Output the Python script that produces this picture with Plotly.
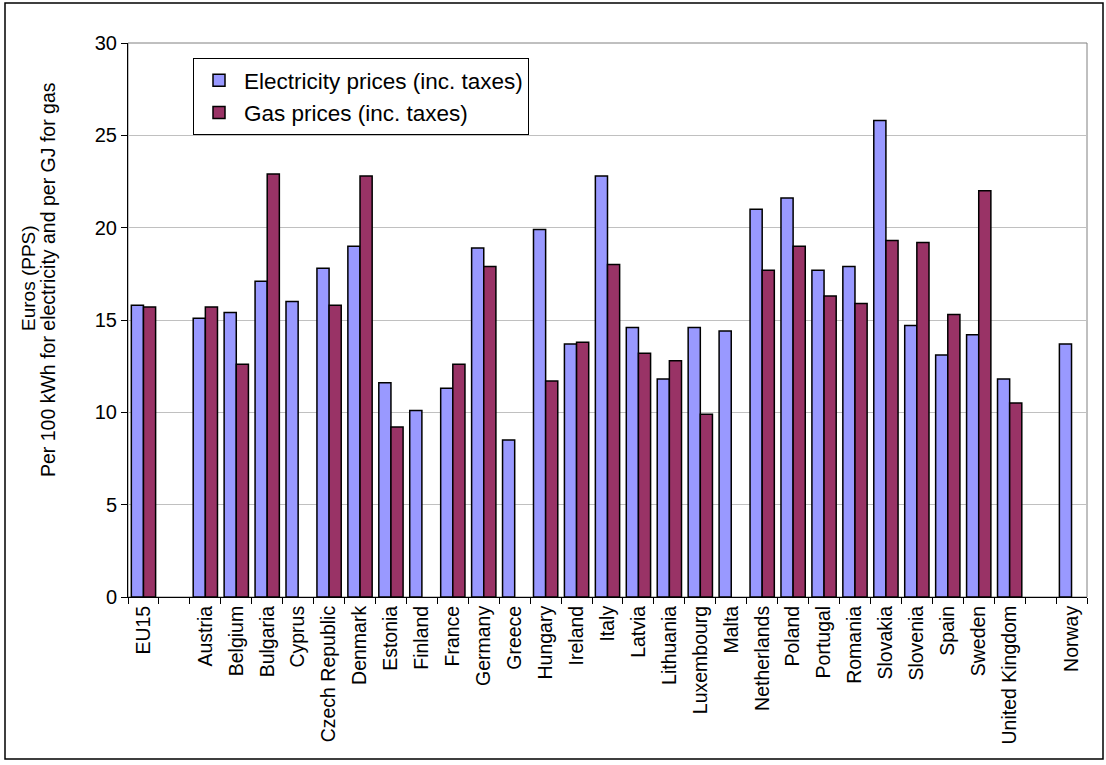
import plotly.graph_objects as go

# Country labels (blank slots separate EU15 and Norway from the member states)
categories = ["EU15", " ", "Austria", "Belgium", "Bulgaria", "Cyprus", "Czech Republic",
              "Denmark", "Estonia", "Finland", "France", "Germany", "Greece", "Hungary",
              "Ireland", "Italy", "Latvia", "Lithuania", "Luxembourg", "Malta",
              "Netherlands", "Poland", "Portugal", "Romania", "Slovakia", "Slovenia",
              "Spain", "Sweden", "United Kingdom", "  ", "Norway"]

# Euros (PPS) per 100 kWh
electricity = [15.8, None, 15.1, 15.4, 17.1, 16.0, 17.8, 19.0, 11.6, 10.1, 11.3, 18.9, 8.5,
               19.9, 13.7, 22.8, 14.6, 11.8, 14.6, 14.4, 21.0, 21.6, 17.7, 17.9, 25.8,
               14.7, 13.1, 14.2, 11.8, None, 13.7]

# Euros (PPS) per GJ
gas = [15.7, None, 15.7, 12.6, 22.9, None, 15.8, 22.8, 9.2, None, 12.6, 17.9, None,
       11.7, 13.8, 18.0, 13.2, 12.8, 9.9, None, 17.7, 19.0, 16.3, 15.9, 19.3,
       19.2, 15.3, 22.0, 10.5, None, None]

series_names = ["Electricity prices (inc. taxes)", "Gas prices (inc. taxes)"]
y_ticks = [0, 5, 10, 15, 20, 25, 30]

W, H = 1106, 765
L, R, T, B = 128, 19, 43, 168
PW, PH = W - L - R, H - T - B


def px_x(x):
    return (x - L) / PW


def px_y(y):
    return (H - B - y) / PH


FONT = "Liberation Sans, Arial, sans-serif"

fig = go.Figure()
fig.add_trace(go.Bar(
    x=categories, y=electricity, name=series_names[0], legendgroup="e",
    marker=dict(color="#9999FF", line=dict(color="#000000", width=1.5)),
))
fig.add_trace(go.Bar(
    x=categories, y=gas, name=series_names[1], legendgroup="g",
    marker=dict(color="#993366", line=dict(color="#000000", width=1.5)),
))

fig.update_layout(
    width=W, height=H,
    margin=dict(l=L, r=R, t=T, b=B, pad=0),
    paper_bgcolor="white", plot_bgcolor="white",
    barmode="group", bargap=0.215, bargroupgap=0,
    font=dict(family=FONT, color="black"),
    showlegend=True,
    legend=dict(
        x=px_x(193), y=px_y(58), xanchor="left", yanchor="top",
        bgcolor="white", bordercolor="black", borderwidth=1,
        font=dict(size=22.5, family=FONT, color="black"),
        itemwidth=40, tracegroupgap=0, traceorder="normal",
    ),
    xaxis=dict(
        type="category", range=[-0.5, len(categories) - 0.5],
        tickson="boundaries", ticks="outside", ticklen=6, tickcolor="black",
        tickangle=-90, tickfont=dict(size=19.5, family=FONT, color="black"),
        showline=True, linecolor="black", linewidth=1, showgrid=False,
        fixedrange=True,
    ),
    yaxis=dict(
        range=[0, 30], tickvals=y_ticks, ticks="outside", ticklen=6, tickcolor="black",
        tickfont=dict(size=20, family=FONT, color="black"),
        showline=True, linecolor="black", linewidth=1,
        showgrid=True, gridcolor="#c0c0c0", gridwidth=1, zeroline=False,
        fixedrange=True,
    ),
    shapes=[
        # plot-area frame
        dict(type="rect", xref="paper", yref="paper", x0=0, x1=1, y0=0, y1=1,
             line=dict(color="#808080", width=1), fillcolor="rgba(0,0,0,0)", layer="below"),
        # chart border
        dict(type="rect", xref="paper", yref="paper",
             x0=px_x(5), x1=px_x(1103), y0=px_y(759), y1=px_y(3),
             line=dict(color="black", width=1.5), fillcolor="rgba(0,0,0,0)"),
    ],
    annotations=[
        dict(text="Euros (PPS)", xref="paper", yref="paper", x=px_x(28), y=px_y(278),
             xanchor="center", yanchor="middle", textangle=-90, showarrow=False,
             font=dict(size=19, family=FONT, color="black")),
        dict(text="Per 100 kWh for electricity and per GJ for gas", xref="paper", yref="paper",
             x=px_x(48), y=px_y(280), xanchor="center", yanchor="middle", textangle=-90,
             showarrow=False, font=dict(size=19.5, family=FONT, color="black")),
    ],
)

fig.write_html("out.html")
